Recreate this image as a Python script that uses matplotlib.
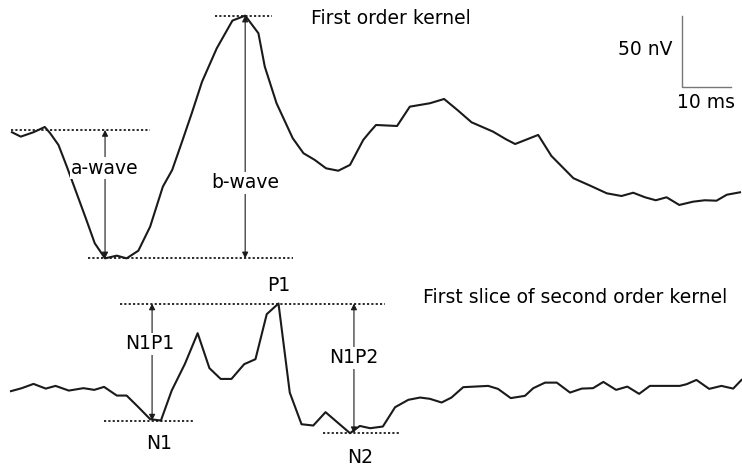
import numpy as np
import matplotlib
matplotlib.use('Agg')
import matplotlib.pyplot as plt

plt.rcParams['font.family'] = ['DejaVu Sans']

# First order kernel: time (ms), amplitude (nV)
t1 = [0.2, 2.0, 4.6, 6.9, 8.0, 9.7, 11.4, 13.4, 15.4, 17.1, 19.2, 21.6, 23.6,
      26.0, 28.4, 31.0, 32.9, 34.8, 36.9, 39.0, 42.0, 45.2, 47.8, 50.5, 51.8,
      54.2, 57.5, 59.7, 62.0, 64.3, 66.8, 69.2, 71.9, 73.3, 74.5, 78.8, 81.4,
      85.5, 88.4, 91.1, 94.0, 98.4, 101.0, 102.9, 107.6, 110.3, 114.8, 118.2,
      121.6, 124.6, 127.0, 129.4, 131.6, 133.8, 136.4, 139.2, 141.6, 144.0,
      146.1, 148.8]
v1 = [-1.6, -4.7, -1.6, 2.1, -2.3, -10.6, -25.8, -44.6, -63.4, -79.8, -90.4,
      -88.5, -90.4, -85.0, -68.1, -39.9, -28.2, -9.4, 11.8, 34.0, 57.5, 77.0,
      80.5, 68.1, 44.6, 18.8, -5.8, -16.4, -21.1, -27.0, -28.7, -24.6, -7.0,
      -1.2, 3.5, 2.8, 16.4, 18.8, 21.8, 14.1, 5.4, -1.2, -6.5, -9.9, -3.5,
      -18.3, -34.0, -39.2, -44.6, -46.5, -44.2, -47.4, -49.5, -47.4, -52.8,
      -50.5, -49.5, -49.8, -45.6, -43.9]

# First slice of second order kernel: time (ms), amplitude (nV)
t2 = [0.0, 2.2, 4.6, 7.1, 9.1, 11.8, 14.8, 17.0, 19.0, 21.6, 23.6, 25.9, 28.4,
      30.6, 32.8, 35.5, 38.1, 40.5, 42.8, 45.0, 47.6, 49.9, 52.2, 54.6, 56.9,
      59.3, 61.7, 64.2, 69.2, 71.2, 73.3, 75.9, 78.4, 81.1, 83.5, 85.5, 87.9,
      89.9, 92.3, 97.4, 99.4, 102.0, 104.9, 106.6, 109.0, 111.4, 114.1, 116.5,
      118.8, 120.9, 123.5, 125.8, 128.2, 130.4, 136.5, 137.9, 139.9, 142.5,
      145.0, 147.4, 149.1]
v2 = [-0.9, 1.2, 4.2, 0.9, 2.8, -0.5, 1.2, 0.0, 2.1, -4.0, -4.0, -11.8, -20.6,
      -21.6, -0.5, 18.3, 39.9, 15.3, 7.7, 7.7, 18.1, 21.6, 53.3, 60.8, -1.9,
      -24.2, -25.1, -15.7, -30.5, -25.4, -27.0, -25.8, -12.2, -7.0, -5.4,
      -6.3, -8.9, -5.4, 1.9, 2.8, 0.7, -5.8, -4.2, 1.2, 5.1, 5.1, -1.9, 0.9,
      1.2, 5.6, 0.0, 2.3, -2.8, 2.8, 2.8, 4.0, 7.0, 0.7, 2.8, 0.9, 7.0]

offset2 = -183.0   # vertical shift of the lower trace

t1 = np.array(t1); v1 = np.array(v1)
t2 = np.array(t2); v2 = np.array(v2) + offset2

fig = plt.figure(figsize=(7.42, 4.66), dpi=100)
ax = fig.add_axes([0, 0, 1, 1])
ax.set_xlim(-2.24, 149.2)
ax.set_ylim(-236.6, 91.5)
ax.axis('off')

ax.plot(t1, v1, color='#1a1a1a', lw=1.5)
ax.plot(t2, v2, color='#1a1a1a', lw=1.5)

dot = dict(color='#1a1a1a', lw=1.3, ls=(0, (1.2, 1.2)))
arr = dict(arrowstyle='<|-|>', color='#1a1a1a', lw=0.8,
           shrinkA=0, shrinkB=0, mutation_scale=9)
fs = 13.5
box = dict(fc='white', ec='none', pad=1)

# top trace annotations
trough = v1.min()
peak = v1.max()
t_peak = t1[np.argmax(v1)]
ax.plot([0, 28.4], [0, 0], **dot)
ax.plot([15.7, 57.6], [trough, trough], **dot)
ax.plot([41.6, 53.3], [peak, peak], **dot)
ax.annotate('', xy=(19.2, 0), xytext=(19.2, trough), arrowprops=arr)
ax.annotate('', xy=(t_peak, peak), xytext=(t_peak, trough), arrowprops=arr)
ax.text(19.2, -26.8, 'a-wave', ha='center', va='center', fontsize=fs, bbox=box)
ax.text(t_peak, -37.3, 'b-wave', ha='center', va='center', fontsize=fs, bbox=box)
ax.text(61.2, 78.5, 'First order kernel', ha='left', va='center', fontsize=fs)

# scale bar: 10 ms, 50 nV
sx, sy = 136.9, 30.3
ax.plot([sx, sx, sx + 10], [sy + 50, sy, sy], color='#777777', lw=1.0)
ax.text(135.1, 56.3, '50 nV', ha='right', va='center', fontsize=fs)
ax.text(sx + 5, 19.0, '10 ms', ha='center', va='center', fontsize=fs)

# bottom trace annotations
p1 = v2.max()
t_p1 = t2[np.argmax(v2)]
n1 = v2[t2 < 40].min()
n2 = v2[t2 > 60].min()
ax.plot([22.2, 76.3], [p1, p1], **dot)
ax.plot([19.0, 37.6], [n1, n1], **dot)
ax.plot([63.7, 79.4], [n2, n2], **dot)
ax.annotate('', xy=(28.8, p1), xytext=(28.8, n1), arrowprops=arr)
ax.annotate('', xy=(70.0, p1), xytext=(70.0, n2), arrowprops=arr)
ax.text(28.4, -150.6, 'N1P1', ha='center', va='center', fontsize=fs, bbox=box)
ax.text(70.0, -160.5, 'N1P2', ha='center', va='center', fontsize=fs, bbox=box)
ax.text(t_p1, -109.2, 'P1', ha='center', va='center', fontsize=fs)
ax.text(30.2, -221.0, 'N1', ha='center', va='center', fontsize=fs)
ax.text(71.2, -230.3, 'N2', ha='center', va='center', fontsize=fs)
ax.text(84.1, -118.3, 'First slice of second order kernel', ha='left',
        va='center', fontsize=fs)

fig.savefig('out.png', dpi=100)
